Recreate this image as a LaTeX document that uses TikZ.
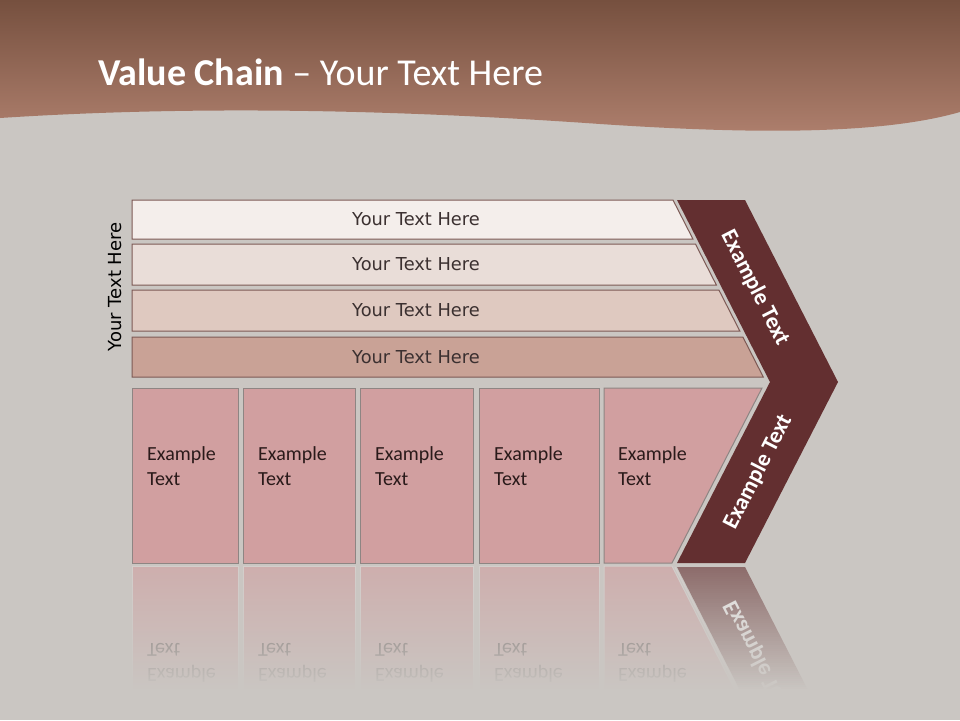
\documentclass[tikz,border=0pt]{standalone}
\usepackage{fontspec}
\setmainfont{Carlito}
\newfontfamily\barfont{DejaVu Sans}
\usetikzlibrary{positioning}

\definecolor{bgcol}{HTML}{CAC6C2}
\definecolor{hdtop}{HTML}{76503F}
\definecolor{hdbot}{HTML}{AE7F6D}
\definecolor{barA}{HTML}{F4EEEB}
\definecolor{barB}{HTML}{E9DDD8}
\definecolor{barC}{HTML}{DFC9C0}
\definecolor{barD}{HTML}{C9A296}
\definecolor{barline}{HTML}{7D5A55}
\definecolor{barink}{HTML}{3B3030}
\definecolor{boxfill}{HTML}{D19FA0}
\definecolor{boxline}{HTML}{8E8583}
\definecolor{boxink}{HTML}{2A1A1A}
\definecolor{chev}{HTML}{632F30}
\definecolor{gapline}{HTML}{DAD4D2}

\tikzstyle{titletext} = [anchor=base west, inner sep=0, text=white, font=\fontsize{38}{42}\selectfont]
\tikzstyle{sidetext} = [rotate=90, inner sep=0, text=black, font=\barfont\fontsize{18}{22}\selectfont]
\tikzstyle{bar} = [draw=barline, line width=1pt]
\tikzstyle{bartext} = [inner sep=0, text=barink, font=\barfont\fontsize{17.8}{21}\selectfont]
\tikzstyle{box} = [draw=boxline, fill=boxfill, line width=1pt]
\tikzstyle{boxtext} = [anchor=north west, align=left, inner sep=0, text=boxink, font=\fontsize{20}{25}\selectfont]
\tikzstyle{chevtext} = [inner sep=0, text=white, font=\bfseries\fontsize{23}{26}\selectfont]

\begin{document}
\begin{tikzpicture}[x=1pt,y=-1pt]
 \useasboundingbox (0,0) rectangle (960,720);
 \fill[bgcol] (0,0) rectangle (960,720);

 % header band
 \shade[top color=hdtop, bottom color=hdbot] (0,0) -- (960,0) -- (960,112)
   .. controls (880,135) and (750,134) .. (600,124)
   .. controls (400,110) and (200,105) .. (0,118) -- cycle;
 \node (title) [titletext] at (98,85) {\textbf{Value Chain} – Your Text Here};

 \node (side) [sidetext] at (115,287) {Your Text Here};

 % bars
 \foreach \t/\b/\c [count=\i] in {200/239/barA, 244/285/barB, 290/331/barC, 337/377/barD} {
  \draw[bar, fill=\c] (132,\t) -- ({673+0.51*(\t-200)},\t) -- ({673+0.51*(\b-200)},\b) -- (132,\b) -- cycle;
  \node (bar\i) [bartext] at (416,{(\t+\b)/2}) {Your Text Here};
 }

 % chevron
 \fill[chev] (677,200) -- (745,200) -- (838,382) -- (745,563) -- (677,563) -- (770,382) -- cycle;
 \node (chevup) [chevtext, rotate=-63] at (755,288) {Example Text};
 \node (chevlow) [chevtext, rotate=63] at (758,472) {Example Text};

 % boxes
 \foreach \l/\r [count=\i] in {132/238, 243/355, 360/473, 479/599} {
  \draw[box] (\l,388) rectangle (\r,563);
  \node (box\i) [boxtext] at (\l+15,446) {Example\\Text};
 }
 \draw[box] (604,388) -- (762,388) -- (672,563) -- (604,563) -- cycle;
 \node (box5) [boxtext] at (618,446) {Example\\Text};

 % reflection
 \begin{scope}
  \clip (0,565) rectangle (960,700);
  \foreach \l/\r in {132/238, 243/355, 360/473, 479/599} {
   \draw[box, draw=gapline] (\l,700) -- (\l,566) -- (\r,566) -- (\r,700);
   \node [boxtext, yscale=-1] at (\l+15,683) {Example\\Text};
  }
  \draw[box, draw=gapline] (604,700) -- (604,566) -- (672,566) -- (740,700);
  \node [boxtext, yscale=-1] at (618,683) {Example\\Text};
  \fill[chev] (677,567) -- (745,567) -- (813,700) -- (745,700) -- cycle;
  \draw[gapline, line width=1.5pt] (675,567) -- (743,700);
  \node [chevtext, yscale=-1, rotate=63] at (758,658) {Example Text};
  % fade out
  \foreach \k in {0,...,62}
   \fill[bgcol, opacity={0.4+0.6*\k/62}] (120,{565+2*\k}) rectangle (850,{567.4+2*\k});
  \fill[bgcol] (120,689) rectangle (850,701);
 \end{scope}
\end{tikzpicture}
\end{document}
